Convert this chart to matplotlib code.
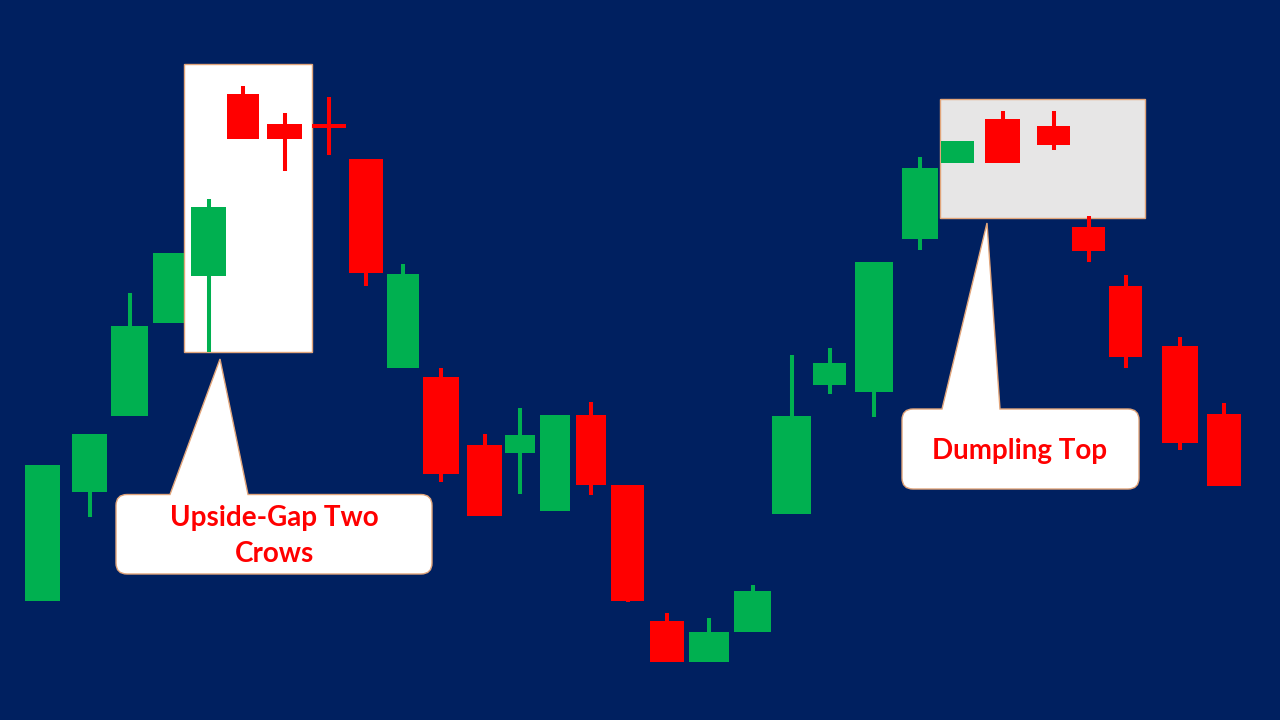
import matplotlib
matplotlib.use("Agg")
import matplotlib.pyplot as plt
from matplotlib.path import Path
from matplotlib.patches import PathPatch, Rectangle

# ---- data (price units, higher = up) ----
x_pos = [42.5, 89.5, 129.5, 170.5, 208.5, 243, 284.5, 329, 366, 403,
         441, 484.5, 520, 555, 591, 627.5, 667, 709, 752.5, 791.5,
         829.5, 874, 920, 957.5, 1002.5, 1053.5, 1088.5, 1125.5, 1180, 1224]
widths = [35, 35, 37, 35, 35, 32, 35, 34, 34, 32,
          36, 35, 30, 30, 30, 33, 34, 40, 37, 39,
          33, 38, 36, 33, 35, 33, 33, 33, 36, 34]
opens = [119, 228, 304, 397.5, 444, 626, 596, 594, 561, 352.5,
         343, 275, 267.5, 209, 305, 235, 99.4, 58.4, 88, 206.3,
         335.3, 328.3, 481.3, 556.7, 601, 594, 493.3, 434, 374, 306]
highs = [255, 286, 427, 467, 521, 634, 607, 623, 561, 456,
         352, 286, 312, 305, 318, 235, 107.4, 102.4, 135, 365,
         372.3, 458, 563.3, 579, 609, 609, 504, 445, 383, 317]
lows = [119, 203, 304, 397.5, 368, 581, 549, 565, 434, 352.5,
        238.4, 204, 226.4, 209, 225, 118, 58.4, 58.4, 88, 206.3,
        326, 303, 470, 556.7, 556.7, 570, 458, 352.3, 270.3, 234.3]
closes = [255, 286, 394, 467, 513, 581.4, 581.4, 594, 447.5, 446,
          246.4, 204, 285, 305, 235, 119.3, 58.4, 88, 129.4, 304,
          357, 458, 552, 579, 556.7, 575.3, 469, 363, 277.3, 234.3]

labels = ["Upside-Gap Two\nCrows", "Dumpling Top"]

BG = "#002060"
GREEN = "#00B050"
RED = "#FF0000"
EDGE = "#E2A57A"

fig = plt.figure(figsize=(12.8, 7.2), dpi=100, facecolor=BG)
ax = fig.add_axes([0, 0, 1, 1])
ax.set_facecolor(BG)
ax.set_xlim(0, 1280)
ax.set_ylim(0, 720)
ax.axis("off")

# highlight boxes
box1 = Rectangle((184, 368), 128, 288, facecolor="white", edgecolor=EDGE, lw=1.0, zorder=2.5)
ax.add_patch(box1)
box2 = Rectangle((940, 502), 205, 119, facecolor="#E7E6E6", edgecolor=EDGE, lw=1.0, zorder=1)
ax.add_patch(box2)

# candles
for i, (x, w, o, h, l, c) in enumerate(zip(x_pos, widths, opens, highs, lows, closes)):
    col = GREEN if c >= o and i not in (7,) else RED
    z = 2 if i <= 3 else 3
    ax.vlines(x, l, h, color=col, lw=2.9, zorder=z)
    body = abs(c - o)
    bottom = min(o, c)
    if body < 3.5:
        bottom = (o + c) / 2 - 1.75
        body = 3.5
    ax.bar(x, body, width=w, bottom=bottom, color=col, edgecolor="none", zorder=z)


def callout(x0, y0, x1, y1, r, bl, br, tip):
    # y1 is top edge (higher price), pointer goes up from top edge
    verts = [
        (x0 + r, y1), (bl, y1), tip, (br, y1), (x1 - r, y1),
        (x1, y1), (x1, y1 - r),
        (x1, y0 + r),
        (x1, y0), (x1 - r, y0),
        (x0 + r, y0),
        (x0, y0), (x0, y0 + r),
        (x0, y1 - r),
        (x0, y1), (x0 + r, y1),
        (x0 + r, y1),
    ]
    codes = [Path.MOVETO, Path.LINETO, Path.LINETO, Path.LINETO, Path.LINETO,
             Path.CURVE3, Path.CURVE3,
             Path.LINETO,
             Path.CURVE3, Path.CURVE3,
             Path.LINETO,
             Path.CURVE3, Path.CURVE3,
             Path.LINETO,
             Path.CURVE3, Path.CURVE3,
             Path.CLOSEPOLY]
    p = PathPatch(Path(verts, codes), facecolor="white", edgecolor=EDGE, lw=1.0, zorder=5)
    ax.add_patch(p)


callout(116, 146, 432, 225.5, 11, 170, 248, (220, 361))
callout(902, 231, 1139, 311, 11, 942, 1000, (987, 497))

ax.text(274, 184, labels[0], ha="center", va="center", color=RED,
        fontsize=20, fontweight="bold", family=["Lato", "DejaVu Sans"],
        linespacing=1.5, zorder=6)
ax.text(1020, 269, labels[1], ha="center", va="center", color=RED,
        fontsize=20, fontweight="bold", family=["Lato", "DejaVu Sans"], zorder=6)

fig.savefig("out.png", dpi=100, facecolor=BG)
